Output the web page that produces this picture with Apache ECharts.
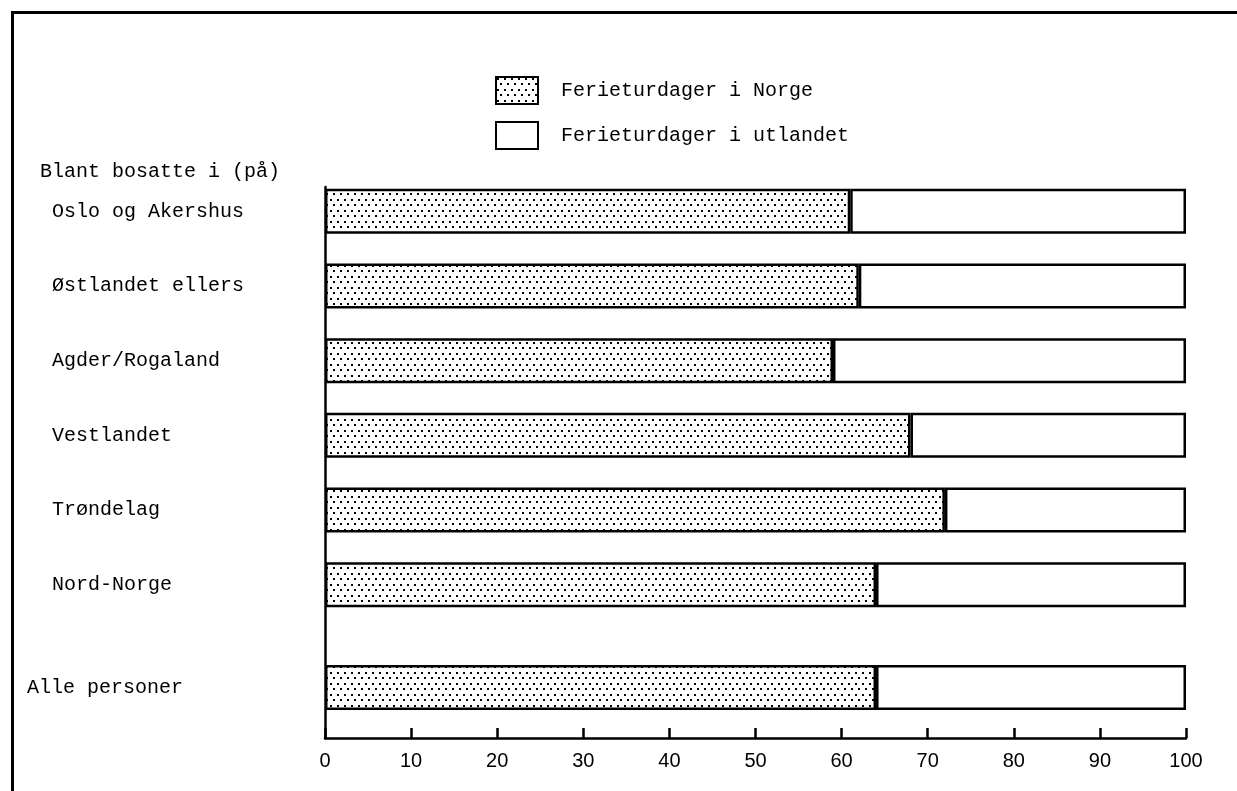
<!DOCTYPE html>
<html>
<head>
<meta charset="utf-8">
<script src="https://cdn.jsdelivr.net/npm/echarts@6/dist/echarts.min.js"></script>
<style>
html,body{margin:0;padding:0;background:#fff;}
#chart{width:1237px;height:791px;}
</style>
</head>
<body>
<div id="chart"></div>
<script>
// ---- data ----
const groupTitle = 'Blant bosatte i (på)';
const regions = ['Oslo og Akershus', 'Østlandet ellers', 'Agder/Rogaland', 'Vestlandet', 'Trøndelag', 'Nord-Norge'];
const norgeShare = [61, 62, 59, 68, 72, 64];
const utlandShare = [39, 38, 41, 32, 28, 36];
const totalCategory = ['Alle personer'];
const totalNorge = [64];
const totalUtland = [36];
const seriesNames = ['Ferieturdager i Norge', 'Ferieturdager i utlandet'];
const axisMin = 0, axisMax = 100, axisStep = 10;

// ---- dotted pattern ----
const pc = document.createElement('canvas');
pc.width = 7; pc.height = 11;
const pctx = pc.getContext('2d');
pctx.fillStyle = '#fff';
pctx.fillRect(0, 0, 7, 11);
pctx.fillStyle = '#000';
pctx.fillRect(1, 1, 2, 2);
pctx.fillRect(4, 6, 2, 2);
const dotPattern = { image: pc, repeat: 'repeat' };

const MONO = '"Liberation Mono", "DejaVu Sans Mono", monospace';
const SANS = '"Liberation Sans", Arial, sans-serif';

const chart = echarts.init(document.getElementById('chart'), null, { renderer: 'canvas' });

const barBase = { type: 'bar', barWidth: 45, animation: false };
const normStyle = { color: dotPattern, borderColor: '#000', borderWidth: 2.5 };
const utlStyle = { color: '#fff', borderColor: '#000', borderWidth: 2.5 };

const hiddenX = (gi) => ({
  type: 'value', gridIndex: gi, min: axisMin, max: axisMax, show: false
});

chart.setOption({
  backgroundColor: '#fff',
  animation: false,
  title: {
    text: groupTitle,
    left: 35, top: 157,
    textStyle: { fontFamily: MONO, fontSize: 20, fontWeight: 'normal', color: '#000' }
  },
  legend: {
    data: seriesNames,
    orient: 'vertical',
    left: 495, top: 76, padding: 0,
    itemWidth: 42, itemHeight: 27, itemGap: 16,
    icon: 'rect',
    formatter: (n) => '{g|}{t|' + n + '}',
    textStyle: {
      fontFamily: MONO, fontSize: 20, color: '#000',
      rich: { g: { width: 18 }, t: { fontFamily: MONO, fontSize: 20, color: '#000' } }
    }
  },
  graphic: [{
    type: 'rect', left: 10, top: 10, z: -1,
    shape: { width: 1250, height: 800 },
    style: { fill: 'none', stroke: '#000', lineWidth: 3 }
  }],
  grid: [
    { left: 325, right: 51, top: 187, bottom: 53 },
    { left: 325, right: 51, top: 174, height: 448 },
    { left: 325, right: 51, top: 637, bottom: 53 }
  ],
  xAxis: [
    {
      type: 'value', gridIndex: 0, min: axisMin, max: axisMax, interval: axisStep,
      axisLine: { show: true, onZero: false, lineStyle: { color: '#000', width: 2.5 } },
      axisTick: { show: true, inside: true, length: 10, lineStyle: { color: '#000', width: 2.5 } },
      axisLabel: { fontFamily: SANS, fontSize: 20, color: '#000', margin: 13 },
      splitLine: { show: false }
    },
    hiddenX(1),
    hiddenX(2)
  ],
  yAxis: [
    {
      type: 'value', gridIndex: 0, min: 0, max: 1,
      axisLine: { show: true, onZero: false, lineStyle: { color: '#000', width: 2.5 } },
      axisTick: { show: false }, axisLabel: { show: false }, splitLine: { show: false }
    },
    {
      type: 'category', gridIndex: 1, data: regions, inverse: true,
      axisLine: { show: false }, axisTick: { show: false },
      axisLabel: { align: 'left', margin: 273, fontFamily: MONO, fontSize: 20, color: '#000' }
    },
    {
      type: 'category', gridIndex: 2, data: totalCategory, inverse: true,
      axisLine: { show: false }, axisTick: { show: false },
      axisLabel: { align: 'left', margin: 298, fontFamily: MONO, fontSize: 20, color: '#000' }
    }
  ],
  series: [
    Object.assign({}, barBase, { name: seriesNames[0], stack: 'regions', xAxisIndex: 1, yAxisIndex: 1, data: norgeShare, itemStyle: normStyle }),
    Object.assign({}, barBase, { name: seriesNames[1], stack: 'regions', xAxisIndex: 1, yAxisIndex: 1, data: utlandShare, itemStyle: utlStyle }),
    Object.assign({}, barBase, { name: seriesNames[0], stack: 'total', xAxisIndex: 2, yAxisIndex: 2, data: totalNorge, itemStyle: normStyle }),
    Object.assign({}, barBase, { name: seriesNames[1], stack: 'total', xAxisIndex: 2, yAxisIndex: 2, data: totalUtland, itemStyle: utlStyle })
  ]
});
</script>
</body>
</html>
